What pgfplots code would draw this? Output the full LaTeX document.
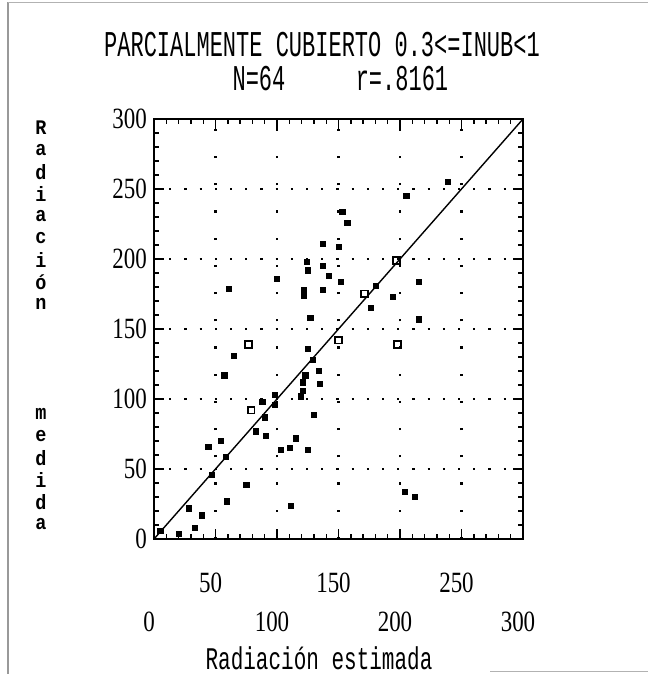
\documentclass[border=0pt]{standalone}
\usepackage{pgfplots}
\pgfplotsset{compat=1.18}
\usepackage{fontspec}
\setmainfont{Liberation Serif}
\newfontfamily\monofont{Liberation Mono}
\usepackage{graphicx}
\newcommand{\tl}[1]{\scalebox{0.82}[1.05]{\fontsize{28}{28}\selectfont #1}}
\newcommand{\ttx}[2]{\scalebox{1}[#1]{\monofont #2}}
\begin{document}
\begin{tikzpicture}[x=1pt,y=1pt]
\path[use as bounding box] (0,0) rectangle (648,674);
\draw[gray!80, line width=1.2pt] (8,0) -- (8,672);
\draw[gray!60, line width=1pt] (8,671) -- (648,671);
\draw[gray!60, line width=1pt] (490,2) -- (648,2);
\node[inner sep=0pt, font=\fontsize{22}{22}\selectfont] at (322,629) {\ttx{1.65}{PARCIALMENTE CUBIERTO 0.3<=INUB<1}};
\node[inner sep=0pt, font=\fontsize{22}{22}\selectfont] at (259,595) {\ttx{1.65}{N=64}};
\node[inner sep=0pt, font=\fontsize{22}{22}\selectfont] at (402,595) {\ttx{1.65}{r=.8161}};
\foreach \c [count=\k from 0] in {R,a,d,i,a,c,i,ó,n}
  \node[inner sep=0pt, font=\fontsize{18.5}{18.5}\selectfont\bfseries] at (41,{674-128-22*\k}) {\ttx{1.12}{\c}};
\foreach \c [count=\k from 13] in {m,e,d,i,d,a}
  \node[inner sep=0pt, font=\fontsize{18.5}{18.5}\selectfont\bfseries] at (41,{674-128-22*\k}) {\ttx{1.12}{\c}};
\node[inner sep=0pt, font=\fontsize{21}{21}\selectfont] at (319,16) {\ttx{1.5}{Radiación estimada}};
\begin{axis}[
  at={(154pt,135pt)}, anchor=south west,
  scale only axis, width=369pt, height=420pt,
  xmin=0, xmax=300, ymin=0, ymax=300,
  xtick={0,50,...,300}, ytick={0,50,...,300},
  minor tick num=4,
  tick align=inside,
  major tick length=10pt, minor tick length=5pt,
  tick style={black, line width=1.4pt},
  axis line style={line width=2pt},
  grid=major,
  x grid style={black, line width=2.2pt, dash pattern=on 2.2pt off 25pt},
  y grid style={black, line width=2.2pt, dash pattern=on 2.2pt off 13pt},
  /pgf/number format/assume math mode=true,
  yticklabel style={anchor=east, inner sep=0pt, xshift=-7pt},
  yticklabel={\tl{\pgfmathprintnumber{\tick}}},
  xticklabel style={anchor=center, inner sep=0pt, yshift=-44pt, xshift=-5pt},
  xticklabel={\ifodd\ticknum\relax\tl{\pgfmathprintnumber{\tick}}\else\raisebox{-39pt}[\height][\depth]{\tl{\pgfmathprintnumber{\tick}}}\fi},
]
\addplot[black, line width=1.4pt] coordinates {(0,0) (300,300)};
\addplot[only marks, mark=square*, mark size=2.6pt, black] table {
x y
153 234
157 226
137 211
150 209
124 198
125 192
137 195
142 188
152 184
122 178
122 174
137 178
61 179
100 186
127 158
239 255
205 245
180 181
176 165
194 173
215 184
215 157
125 136
129 128
134 120
123 117
121 112
121 106
119 102
135 111
57 117
65 131
88 98
98 103
98 96
90 87
83 77
91 74
130 89
115 72
110 65
103 64
125 64
44 66
54 70
58 59
47 46
75 39
59 27
111 24
28 22
39 17
5 6
204 34
212 30
20 4
33 8
};
\addplot[only marks, mark=square, mark size=3.4pt, black, line width=1.8pt] table {
x y
197 199
198 139
150 142
77 139
79 92
171 175
};
\end{axis}
\end{tikzpicture}
\end{document}
